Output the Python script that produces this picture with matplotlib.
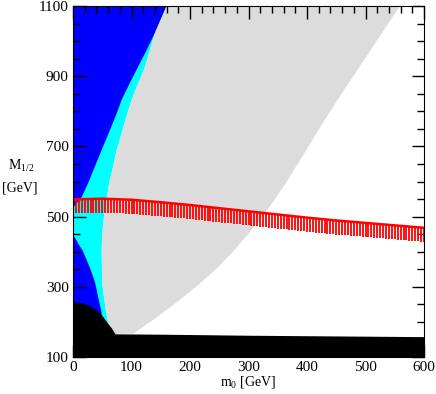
import numpy as np
import matplotlib
matplotlib.use("Agg")
import matplotlib.pyplot as plt
from matplotlib.ticker import MultipleLocator

plt.rcParams['font.family'] = ['Liberation Serif', 'DejaVu Serif']
plt.rcParams['mathtext.fontset'] = 'custom'
plt.rcParams['mathtext.rm'] = 'Liberation Serif'

# black region (top edge), filled down to the axis
black_m0 = [0, 18, 29, 40, 49, 57, 66, 72, 150, 300, 450, 600]
black_M = [258, 253, 245, 234, 220, 201, 182, 166, 165, 162, 160, 158]

# lower blue region (right edge)
blue_lo_m0 = [0, 4, 10, 16, 22, 28, 33, 38, 44, 48, 52]
blue_lo_M = [448, 438, 420, 405, 382, 358, 335, 310, 263, 234, 190]

# upper blue region (right edge, bottom to top)
blue_up_m0 = [0, 15, 26, 49, 64, 77, 83, 97, 111, 126, 140, 160]
blue_up_M = [525, 556, 596, 690, 750, 804, 832, 880, 926, 975, 1023, 1100]

# grey region, left edge (top to bottom) and right edge (bottom to top)
grey_left_m0 = [160, 140, 123, 100, 87, 75, 62, 58, 53, 50, 49, 50, 53, 56, 60, 62]
grey_left_M = [1100, 1023, 926, 832, 760, 690, 596, 556, 500, 450, 400, 310, 270, 234, 200, 166]
grey_right_m0 = [103, 142, 182, 216, 248, 276, 301, 324, 345, 364, 381, 399, 416, 434, 452, 471, 490, 524, 559]
grey_right_M = [166, 212, 262, 308, 356, 405, 453, 501, 549, 596, 642, 690, 737, 785, 832, 880, 927, 1013, 1100]

# red band upper edge
red_m0 = [0, 50, 100, 150, 200, 250, 300, 350, 400, 450, 500, 550, 600]
red_M = [549, 551, 548, 541, 533, 524, 515, 506, 497, 489, 482, 475, 468]
red_depth = 40

fig = plt.figure(figsize=(4.36, 3.94), dpi=100)
ax = fig.add_axes([73/436, 37/394, 351/436, 351/394])

# cyan background strip left of the grey region
cx = [0, 0] + grey_left_m0 + [62]
cy = [100, 1100] + grey_left_M + [100]
ax.fill(cx, cy, color='#00ffff', lw=0)

ax.fill([0] + blue_up_m0, [1100] + blue_up_M, color='#0000ff', lw=0)
ax.fill([0] + blue_lo_m0 + [52], [100] + blue_lo_M + [100], color='#0000ff', lw=0)

gx = grey_left_m0 + grey_right_m0
gy = grey_left_M + grey_right_M
ax.fill(gx, gy, color='#dcdcdc', lw=0)

ax.fill_between(black_m0, 100, black_M, color='black', lw=0)

# red hatched band
hx = np.arange(0, 601, 5)
hy = np.interp(hx, red_m0, red_M)
ax.vlines(hx, hy - red_depth, hy, color='red', lw=1.3)
ax.plot(red_m0, red_M, color='red', lw=1.8)

ax.set_xlim(0, 600)
ax.set_ylim(100, 1100)
ax.set_xticks([0, 100, 200, 300, 400, 500, 600])
ax.set_yticks([100, 300, 500, 700, 900, 1100])
ax.xaxis.set_minor_locator(MultipleLocator(20))
ax.yaxis.set_minor_locator(MultipleLocator(50))
ax.tick_params(which='both', direction='in', top=True, right=True, labelsize=11)
ax.tick_params(which='major', length=9, width=1)
ax.tick_params(which='minor', length=5, width=1)
ax.tick_params(axis='x', pad=3)
ax.tick_params(axis='y', pad=3)

ax.set_xlabel(r'm$_0$ [GeV]', fontsize=10, labelpad=0)
fig.text(21/436, 1 - 166/394, r'M$_{1/2}$', fontsize=10, ha='center', va='center')
fig.text(20/436, 1 - 188/394, '[GeV]', fontsize=10, ha='center', va='center')

fig.savefig('out.png', dpi=100)
